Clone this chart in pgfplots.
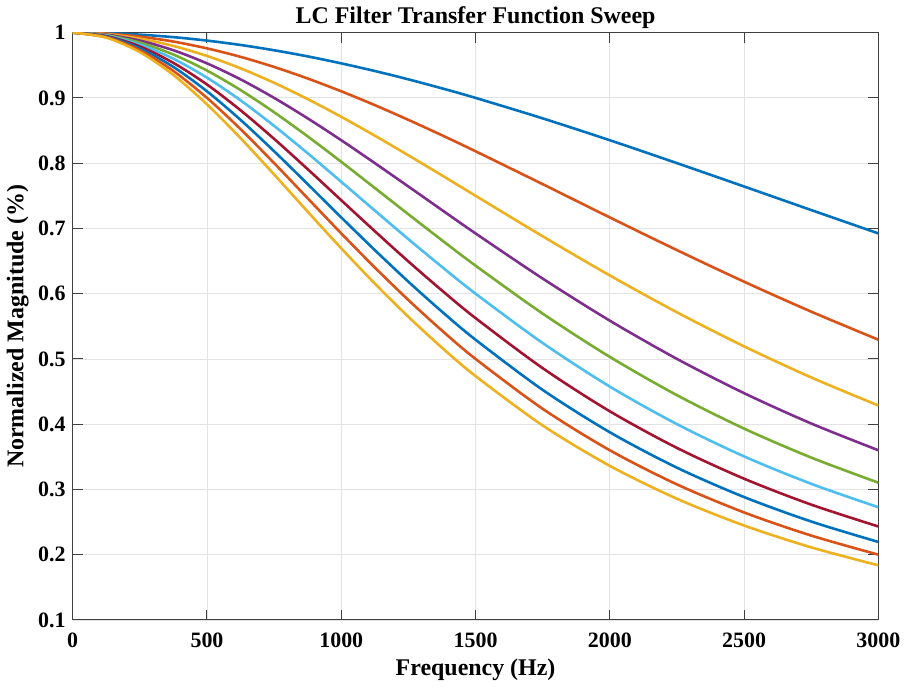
\documentclass[border=0pt]{standalone}
\usepackage{fontspec}
\setmainfont{Liberation Serif}
\usepackage{pgfplots}
\usepackage{pgfplotstable}
\pgfplotsset{compat=1.18}

% MATLAB default line colours
\definecolor{m1}{rgb}{0,0.447,0.741}
\definecolor{m2}{rgb}{0.850,0.325,0.098}
\definecolor{m3}{rgb}{0.929,0.694,0.125}
\definecolor{m4}{rgb}{0.494,0.184,0.556}
\definecolor{m5}{rgb}{0.466,0.674,0.188}
\definecolor{m6}{rgb}{0.301,0.745,0.933}
\definecolor{m7}{rgb}{0.635,0.078,0.184}

% magnitude read off the sweep (denser below 1500 Hz where the curves bend)
\pgfplotstableread{
f    c1     c2     c3     c4     c5     c6     c7     c8     c9     c10
0    1.0000 1.0000 1.0000 1.0000 1.0000 1.0000 1.0000 1.0000 1.0000 1.0000
125  0.9992 0.9985 0.9977 0.9969 0.9962 0.9954 0.9946 0.9939 0.9931 0.9923
250  0.9969 0.9939 0.9908 0.9878 0.9848 0.9818 0.9789 0.9759 0.9730 0.9701
375  0.9931 0.9863 0.9796 0.9730 0.9664 0.9600 0.9536 0.9474 0.9412 0.9351
500  0.9878 0.9759 0.9643 0.9529 0.9419 0.9310 0.9205 0.9101 0.9000 0.8901
625  0.9811 0.9629 0.9453 0.9284 0.9120 0.8963 0.8810 0.8663 0.8521 0.8383
750  0.9730 0.9474 0.9231 0.9000 0.8780 0.8571 0.8372 0.8182 0.8000 0.7826
875  0.9636 0.9297 0.8981 0.8686 0.8410 0.8151 0.7907 0.7678 0.7461 0.7256
1000 0.9529 0.9101 0.8710 0.8351 0.8020 0.7714 0.7431 0.7168 0.6923 0.6694
1125 0.9412 0.8889 0.8421 0.8000 0.7619 0.7273 0.6957 0.6667 0.6400 0.6154
1250 0.9284 0.8663 0.8120 0.7642 0.7216 0.6835 0.6493 0.6183 0.5902 0.5645
1375 0.9146 0.8427 0.7812 0.7281 0.6818 0.6410 0.6048 0.5724 0.5434 0.5172
1500 0.9000 0.8182 0.7500 0.6923 0.6429 0.6000 0.5625 0.5294 0.5000 0.4737
1750 0.8686 0.7678 0.6879 0.6231 0.5694 0.5243 0.4858 0.4525 0.4235 0.3980
2000 0.8351 0.7168 0.6279 0.5586 0.5031 0.4576 0.4197 0.3876 0.3600 0.3361
2250 0.8000 0.6667 0.5714 0.5000 0.4444 0.4000 0.3636 0.3333 0.3077 0.2857
2500 0.7642 0.6183 0.5192 0.4475 0.3932 0.3506 0.3164 0.2883 0.2647 0.2447
2750 0.7281 0.5724 0.4716 0.4010 0.3488 0.3086 0.2767 0.2508 0.2293 0.2112
3000 0.6923 0.5294 0.4286 0.3600 0.3103 0.2727 0.2432 0.2195 0.2000 0.1837
}\sweep

\begin{document}
\begin{tikzpicture}
\begin{axis}[
    scale only axis,
    width=404pt, height=294.5pt,
    xmin=0, xmax=3000, ymin=0.1, ymax=1,
    xtick={0,500,...,3000},
    ytick={0.1,0.2,...,1.0},
    /pgf/number format/1000 sep={},
    /pgf/number format/assume math mode=true,
    ticklabel style={font=\fontsize{11}{13}\selectfont\bfseries},
    xticklabel style={yshift=-3pt},
    label style={font=\fontsize{12}{14}\selectfont\bfseries},
    title style={font=\fontsize{12}{14}\selectfont\bfseries, yshift=-7.5pt},
    title={LC Filter Transfer Function Sweep},
    xlabel={Frequency (Hz)},
    ylabel={Normalized Magnitude (\%)},
    xlabel style={yshift=1.5pt},
    ylabel style={yshift=-2pt},
    grid=major,
    grid style={gray!22, line width=0.4pt},
    axis line style={black!75, line width=0.5pt},
    tick style={black!75, line width=0.5pt},
    major tick length=5pt,
    every axis plot/.append style={line width=1.3pt, smooth, no markers},
]
\addplot[m1] table[y=c1] {\sweep};
\addplot[m2] table[y=c2] {\sweep};
\addplot[m3] table[y=c3] {\sweep};
\addplot[m4] table[y=c4] {\sweep};
\addplot[m5] table[y=c5] {\sweep};
\addplot[m6] table[y=c6] {\sweep};
\addplot[m7] table[y=c7] {\sweep};
\addplot[m1] table[y=c8] {\sweep};
\addplot[m2] table[y=c9] {\sweep};
\addplot[m3] table[y=c10] {\sweep};
\end{axis}
\end{tikzpicture}
\end{document}
